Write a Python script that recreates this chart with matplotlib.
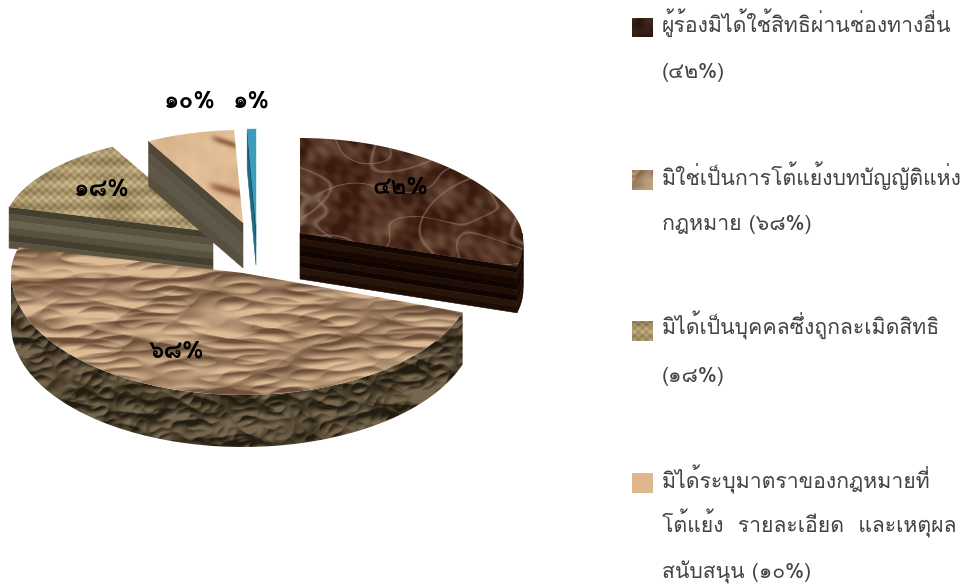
import numpy as np
import matplotlib
matplotlib.use("Agg")
import matplotlib.pyplot as plt
from matplotlib.colors import to_rgb
from matplotlib.patches import Polygon

plt.rcParams["font.family"] = ["Loma", "DejaVu Sans"]

# values shown on the pie, clockwise from twelve o'clock
values = [42, 68, 18, 10, 1]

legend_lines = [
    ["ผู้ร้องมิได้ใช้สิทธิผ่านช่องทางอื่น", "(๔๒%)"],
    ["มิใช่เป็นการโต้แย้งบทบัญญัติแห่ง", "กฎหมาย (๖๘%)"],
    ["มิได้เป็นบุคคลซึ่งถูกละเมิดสิทธิ", "(๑๘%)"],
    ["มิได้ระบุมาตราของกฎหมายที่", "โต้แย้ง  รายละเอียด  และเหตุผล", "สนับสนุน (๑๐%)"],
]

THAI_DIGITS = str.maketrans("0123456789", "๐๑๒๓๔๕๖๗๘๙")


def pct(v):
    return f"{v}%".translate(THAI_DIGITS)


# --- procedural surface textures -------------------------------------------

def grid(box):
    x0, y0, x1, y1 = box
    return np.meshgrid(np.arange(x0, x1, 1.0), np.arange(y0, y1, 1.0))


def ramp(t, c0, c1):
    t = np.clip(t, 0, 1)[..., None]
    return np.array(to_rgb(c0)) * (1 - t) + np.array(to_rgb(c1)) * t


def waves(x, y, f0, stretch=1.0, n=9, seed=1.0):
    # sum of plane waves in golden-angle directions, gives an irregular field
    h = np.zeros_like(x)
    for k in range(1, n + 1):
        ang = k * 2.39996 + seed
        f = f0 * (1 + 0.41 * (k % 5))
        h += np.sin(f * (np.cos(ang) * x * stretch + np.sin(ang) * y) + k * 1.7 + seed)
    return h / np.sqrt(n / 2)


def crumple(box, dark, light, gain=1.0, stretch=0.4):
    x, y = grid(box)
    h = (np.abs(waves(x, y, 0.05, stretch, seed=0.3))
         + 0.7 * np.abs(waves(x, y, 0.11, stretch, seed=1.9))
         + 0.35 * np.abs(waves(x, y, 0.24, stretch, seed=3.1)))
    gy, gx = np.gradient(h)
    shade = 0.5 + gain * (-1.6 * gy - 0.7 * gx) + 0.10 * (h - h.mean())
    return ramp(shade, dark, light)


def marble(box):
    x, y = grid(box)
    mott = 0.38 + 0.22 * waves(x, y, 0.07, seed=0.8) + 0.12 * waves(x, y, 0.22, seed=2.2)
    img = ramp(mott, "#381a0e", "#6f4f3c")
    veins = np.exp(-(waves(x, y, 0.035, 0.7, seed=4.0) / 0.09) ** 2)
    veins += np.exp(-(waves(x, y, 0.06, 0.5, seed=5.3) / 0.08) ** 2)
    t = np.clip(veins * 0.5, 0, 0.65)[..., None]
    return img * (1 - t) + np.array(to_rgb("#a48c78")) * t


def burlap(box):
    x, y = grid(box)
    weave = 0.52 + 0.22 * np.sin(2 * np.pi * x / 8.0) * np.sin(2 * np.pi * y / 7.5)
    weave += 0.16 * np.sin(2 * np.pi * y / 15.0) + 0.07 * waves(x, y, 0.06, seed=1.2)
    return ramp(weave, "#78663f", "#d6c295")


def parchment(box):
    x, y = grid(box)
    base = 0.55 + 0.14 * waves(x, y, 0.035, seed=2.6) + 0.05 * waves(x, y, 0.15, seed=0.4)
    img = ramp(base, "#cfa67b", "#eccba6")
    # two brown streaks near the outer edge
    for sx, sy, w, h, tilt in [(226, 142, 14, 3.4, 0.32), (227, 190, 17, 4.2, 0.28)]:
        d = (y - sy - tilt * (x - sx)) / h
        t = (0.9 * np.exp(-d ** 2 - ((x - sx) / w) ** 4))[..., None]
        img = img * (1 - t) + np.array(to_rgb("#8f5d38")) * t
    return img


def flat(box, color):
    x, y = grid(box)
    return np.ones(x.shape + (3,)) * np.array(to_rgb(color))


# --- pie geometry ----------------------------------------------------------

fig = plt.figure(figsize=(9.69, 5.85), dpi=100)
ax = fig.add_axes([0, 0, 1, 1])


def paint(img, box, outline, zorder):
    x0, y0, x1, y1 = box
    im = ax.imshow(img, extent=(x0, x1, y1, y0), interpolation="bilinear",
                   aspect="auto", zorder=zorder)
    patch = Polygon(outline, closed=True, transform=ax.transData, fc="none", ec="none")
    ax.add_patch(patch)
    im.set_clip_path(patch)


class Slice:
    def __init__(self, start, end, apex, rx, ry_back, ry_front, depth, flare=0.0, flat_back=1.0):
        self.start, self.end = start, end
        self.cx, self.cy = apex
        self.rx, self.ry_back, self.ry_front = rx, ry_back, ry_front
        self.depth = depth
        self.flare, self.flat_back = flare, flat_back

    def rim(self, a0, a1, dz=0.0):
        t = np.radians(np.linspace(a0, a1, 90))
        s = np.sin(t)
        # flare widens the front half, flat_back pulls the back arc down
        rx = self.rx + self.flare * np.clip(-s, 0, 1)
        dy = np.where(s > 0, self.ry_back * np.abs(s) ** self.flat_back, self.ry_front * s)
        return np.column_stack([self.cx + rx * np.cos(t), self.cy - dy + dz])

    def top(self):
        return np.vstack([[self.cx, self.cy], self.rim(self.start, self.end)])

    def bands(self, outline_top, colors, zorder):
        # stacked strips running along the side wall
        n = len(colors)
        for i, c in enumerate(colors):
            a = outline_top + [0, self.depth * i / n]
            b = outline_top + [0, self.depth * (i + 1) / n]
            ax.add_patch(Polygon(np.vstack([a, b[::-1]]), closed=True, fc=c, ec=c, lw=0.4, zorder=zorder))

    def cut(self, angle):
        return np.vstack([[self.cx, self.cy], self.rim(angle, angle + 0.001)[:1]])


angles = 90 - np.cumsum([0] + values) * 360.0 / sum(values)

dark = Slice(angles[0], angles[1], (300, 233), 222, 95, 105, 46, flare=22, flat_back=1.25)
big = Slice(angles[1], angles[2], (243, 273), 232, 100, 122, 52)
tan = Slice(angles[2], angles[3], (213, 232), 211, 97, 100, 41)
light = Slice(angles[3], angles[4], (243, 223), 198, 93, 93, 45)
blue = Slice(angles[4], angles[5], (256, 225), 195, 96, 96, 40)

# tan slice: front cut wall, then the woven top
tan.bands(tan.cut(tan.start), ["#453f2f", "#595240", "#6a624c", "#575140", "#443e2f", "#5a5340"], 2)
paint(burlap((0, 140, 225, 240)), (0, 140, 225, 240), tan.top(), 3)

# light slice
light.bands(light.cut(light.start), ["#4f4737", "#5b5343", "#5f5747", "#57503f"], 4)
paint(parchment((140, 125, 250, 230)), (140, 125, 250, 230), light.top(), 5)

# sliver
blue.bands(blue.cut(blue.start), ["#16566c", "#1d6a82"], 6)
ax.add_patch(Polygon(blue.top(), closed=True, fc="#3c9dbb", ec="#3c9dbb", lw=0.3, zorder=7))

# dark slice: cut wall, short rim, marbled top
dark_wall = ["#140601", "#241207", "#160702", "#0f0400", "#1f0e05", "#120501", "#281509", "#1c0c04"]
dark.bands(dark.cut(dark.end), dark_wall, 8)
dark.bands(dark.rim(dark.end, 0), dark_wall, 8)
paint(marble((295, 130, 530, 275)), (295, 130, 530, 275), dark.top(), 9)

# big slice: crumpled rim wall in front, crumpled paper on top
rim_box = (5, 250, 470, 455)
rim_top = big.rim(big.start, -180)
rim_poly = np.vstack([rim_top, (rim_top + [0, big.depth])[::-1]])
paint(crumple(rim_box, "#231c10", "#76664d", gain=1.3, stretch=0.6), rim_box, rim_poly, 10)
top_box = (5, 240, 470, 400)
paint(crumple(top_box, "#6e503a", "#dcbb95", gain=1.2, stretch=0.22), top_box, big.top(), 11)

# --- labels ----------------------------------------------------------------

label_pos = [(400, 187), (177, 351), (102, 189), (190, 101), (251, 101)]
for v, (lx, ly) in zip(values, label_pos):
    ax.text(lx, ly, pct(v), ha="center", va="center", fontsize=17.5, fontweight="bold",
            color="black", zorder=20)

# --- legend ----------------------------------------------------------------

swatch_boxes = [(632, 18, 653, 37), (632, 170, 653, 190), (632, 321, 653, 341), (632, 473, 653, 493)]
swatch_fill = [
    marble((400, 170, 421, 189)) * 0.65,
    crumple((100, 300, 121, 320), "#7f6146", "#e6c8a4"),
    burlap((100, 160, 121, 180)),
    flat((632, 473, 653, 493), "#dfb78f"),
]
for (x0, y0, x1, y1), img in zip(swatch_boxes, swatch_fill):
    ax.imshow(img, extent=(x0, x1, y1, y0), aspect="auto", zorder=5)

baselines = [[32, 78], [185, 230], [335, 382], [488, 533, 578]]
for lines, ys in zip(legend_lines, baselines):
    for line, y in zip(lines, ys):
        ax.text(662, y, line, ha="left", va="baseline", fontsize=15.3, color="#444444")

ax.set_xlim(0, 969)
ax.set_ylim(585, 0)
ax.axis("off")

fig.savefig("out.png", dpi=100)
